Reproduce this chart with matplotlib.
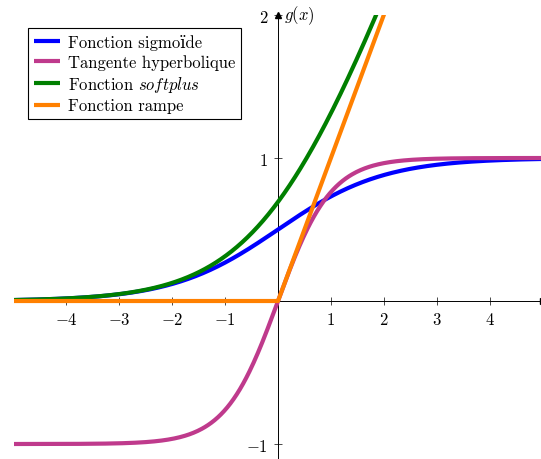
import numpy as np
import matplotlib
matplotlib.use("Agg")
import matplotlib.pyplot as plt

plt.rcParams['font.family'] = ['cmr10', 'DejaVu Serif']
plt.rcParams['mathtext.fontset'] = 'cm'
plt.rcParams['axes.unicode_minus'] = False

# abscisses et fonctions d'activation
x = np.linspace(-5, 5, 501)
sigmoide = 1 / (1 + np.exp(-x))
tangente = np.tanh(x)
softplus = np.log1p(np.exp(x))
rampe = np.maximum(0, x)

labels = ["Fonction sigmoïde", "Tangente hyperbolique",
          r"Fonction $\mathit{softplus}$", "Fonction rampe"]
colors = ["#0000ff", "#bf3a8c", "#007f00", "#ff8000"]
xticks = [-4, -3, -2, -1, 1, 2, 3, 4]
yticks = [-1, 1, 2]

fig = plt.figure(figsize=(5.41, 4.60), dpi=100)
ax = fig.add_axes([13.5 / 541, 0.0015, 529 / 541, 0.9637])

for y, lab, c in zip([sigmoide, tangente, softplus, rampe], labels, colors):
    ax.plot(x, y, color=c, lw=3.0, label=lab, solid_capstyle='butt')

ax.set_xlim(-5, 5)
ax.set_ylim(-1.1, 2)

ax.spines['left'].set_position(('data', 0))
ax.spines['bottom'].set_position(('data', 0))
ax.spines['top'].set_visible(False)
ax.spines['right'].set_visible(False)
for s in ('left', 'bottom'):
    ax.spines[s].set_linewidth(0.7)
    ax.spines[s].set_zorder(0.5)

ax.set_xticks(xticks)
ax.set_xticklabels([f"${v}$" for v in xticks])
ax.set_yticks(yticks)
ax.set_yticklabels([f"${v}$" for v in yticks])
ax.tick_params(direction='inout', length=6, width=0.5, labelsize=12, pad=4)

# flèches au bout des axes
ax.plot(1, 0, '>k', ms=4, transform=ax.get_yaxis_transform(), clip_on=False)
ax.plot(0, 1, '^k', ms=4, transform=ax.get_xaxis_transform(), clip_on=False)
ax.text(4.97, 0.04, "$x$", fontsize=12, ha='left', va='bottom')
ax.text(0.12, 2.0, "$g(x)$", fontsize=12, ha='left', va='center')

leg = ax.legend(loc='upper left', bbox_to_anchor=(28 / 541, 1 - 29 / 460),
                bbox_transform=fig.transFigure, borderaxespad=0, fontsize=12,
                fancybox=False, edgecolor='black', framealpha=1,
                handlelength=1.55, labelspacing=0.25, borderpad=0.35,
                handletextpad=0.5)
leg.get_frame().set_linewidth(0.8)

fig.savefig("out.png", dpi=100)
